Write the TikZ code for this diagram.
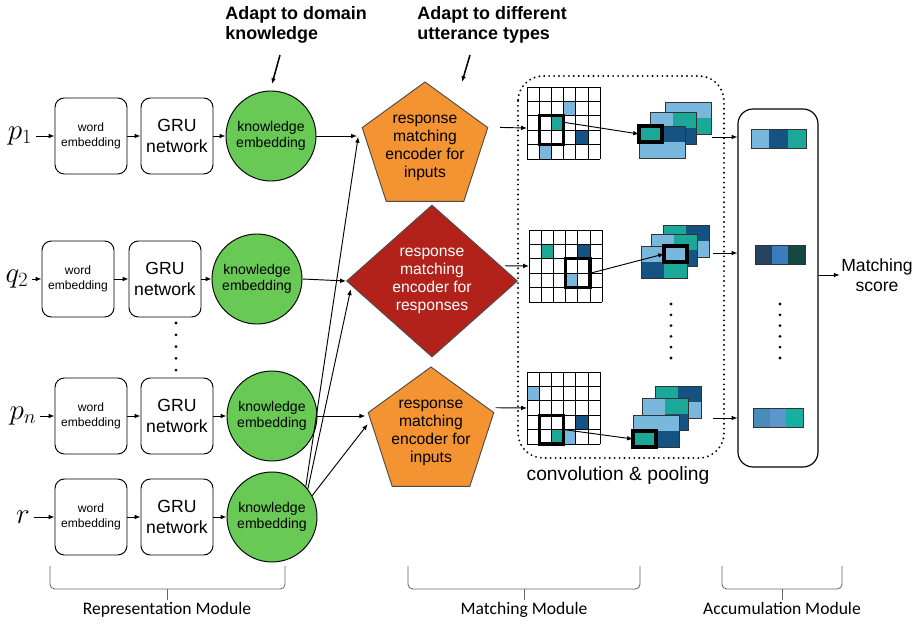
\documentclass[tikz,border=0pt]{standalone}
\usepackage[no-math]{fontspec}
\setmainfont{Liberation Sans}
\newfontfamily\calibrifont{Carlito}
\usetikzlibrary{shapes.geometric, arrows.meta}

\definecolor{kgreen}{RGB}{104,201,84}
\definecolor{encorange}{RGB}{244,147,49}
\definecolor{encred}{RGB}{178,34,27}
\definecolor{lblue}{RGB}{122,183,221}
\definecolor{dblue}{RGB}{22,82,130}
\definecolor{cteal}{RGB}{28,168,153}
\definecolor{vslate}{RGB}{38,68,94}
\definecolor{vmid}{RGB}{58,124,190}
\definecolor{vdgreen}{RGB}{22,72,66}
\definecolor{vsteel}{RGB}{72,140,190}
\definecolor{vsky}{RGB}{92,150,204}
\definecolor{vteal}{RGB}{22,176,160}

% one layer of a pooled feature map: x, y, four cell colours
\newcommand{\fmlayer}[6]{%
  \begin{scope}[shift={(#1,#2)}, xscale=23, yscale=16]
    \fill[#3] (0,0) rectangle (1,1);
    \fill[#4] (1,0) rectangle (2,1);
    \fill[#5] (0,1) rectangle (1,2);
    \fill[#6] (1,1) rectangle (2,2);
    \draw[fmline] (0,0) rectangle (2,2);
  \end{scope}}
% a vector in the accumulation module
\newcommand{\accvec}[6]{%
  \begin{scope}[shift={(#1,#2)}, xscale=#3, yscale=19]
    \fill[#4] (0,0) rectangle (1,1);
    \fill[#5] (1,0) rectangle (2,1);
    \fill[#6] (2,0) rectangle (3,1);
    \draw[fmline] (0,0) rectangle (3,1);
  \end{scope}}
\newcommand{\gridlines}{%
  \foreach \c in {0,...,6} \draw[gline] (\c,0) -- (\c,5);
  \foreach \r in {0,...,5} \draw[gline] (0,\r) -- (6,\r);}

\tikzset{
  >={Latex[length=5pt,width=4pt]},
  embbox/.style={draw, rounded corners=8pt, minimum width=2.16cm, minimum height=2.28cm, align=center, inner sep=1pt},
  wordfont/.style={font=\fontsize{10.3}{13}\selectfont},
  grufont/.style={font=\fontsize{15}{18.5}\selectfont},
  know/.style={circle, draw, fill=kgreen, minimum size=2.7cm, inner sep=1pt, align=center, font=\fontsize{12}{13.6}\selectfont},
  encin/.style={regular polygon, regular polygon sides=5, minimum size=3.96cm, inner sep=0pt, draw=black!70, fill=encorange},
  encresp/.style={diamond, minimum width=5.13cm, minimum height=4.56cm, inner sep=0pt, draw=black!70, fill=encred},
  enctext/.style={align=center, font=\fontsize{13.4}{15.5}\selectfont},
  annot/.style={align=left, inner sep=0pt, font=\bfseries\fontsize{15.3}{17}\selectfont},
  gline/.style={line width=0.8pt},
  fmline/.style={black!80, line width=0.6pt},
  kernel/.style={draw=black, line width=2.8pt},
  dotbox/.style={line width=1.8pt, line cap=round, dash pattern=on 0pt off 4.2pt, rounded corners=0.75cm},
  accbox/.style={draw, line width=1pt, rounded corners=0.45cm, minimum width=2.4cm, minimum height=10.74cm},
  brc/.style={black!60, line width=0.7pt, rounded corners=4pt},
  modlabel/.style={anchor=base, font=\calibrifont\fontsize{15}{18}\selectfont}
}

\begin{document}
\begin{tikzpicture}[x=0.03cm, y=-0.03cm, line width=0.8pt]
\useasboundingbox (0,0) rectangle (917,624);

% representation rows
\foreach \i/\y/\lx/\wx/\gx/\kx/\lab in {1/136/20/91/177/271/p_1, 2/279/17/78/165/257/q_2, 3/416/23/91/177/272/p_n, 4/517/23/91/177/272/r}{
  \node[font=\fontsize{25}{25}\selectfont, inner sep=3pt] (in\i) at (\lx,\y) {$\lab$};
  \node[embbox, wordfont] (w\i) at (\wx,\y) {word\\embedding};
  \node[embbox, grufont] (g\i) at (\gx,\y) {GRU\\network};
  \node[know] (k\i) at (\kx,\y) {knowledge\\embedding};
  \draw[->] (in\i) -- (w\i);
  \draw[->] (w\i) -- (g\i);
  \draw[->] (g\i) -- (k\i);
}
\foreach \d in {0,...,4} \fill (176,323+\d*11.8) circle (1.3pt);

% encoders
\node[encin, label={[enctext]center:{response\\matching\\encoder for\\inputs}}] (e1) at (425,148) {};
\node[encresp, label={[enctext, text=white]center:{response\\matching\\encoder for\\responses}}] (e2) at (432,281) {};
\node[encin, label={[enctext]center:{response\\matching\\encoder for\\inputs}}] (e3) at (431,433) {};

\draw[->, shorten >=4pt] (k1) -- (k1 -| e1.corner 2);
\draw[->] (k2.east) -- (e2.west);
\draw[->, shorten >=2pt] (k3) -- (k3 -| e3.corner 2);
\draw[->] (k4.42) -- ([xshift=-3pt,yshift=-8pt]e1.corner 2);
\draw[->] (k4.38) -- ([xshift=4pt,yshift=-7pt]e2.west);
\draw[->] (k4.28) -- ([yshift=-10pt]e3.corner 2);

% annotations
\node[annot, anchor=north west] (ann1) at (225,6) {Adapt to domain\\knowledge};
\node[annot, anchor=north west] (ann2) at (417,6) {Adapt to different\\utterance types};
\coordinate (a1s) at (280,55); \coordinate (a1e) at (272,84);
\coordinate (a2s) at (470,55); \coordinate (a2e) at (462,82);
\draw[->, line width=1.3pt] (a1s) -- (a1e);
\draw[->, line width=1.3pt] (a2s) -- (a2e);

% matching module
\draw[dotbox] (518,76) rectangle (724,458);
\node[font=\fontsize{16.4}{18}\selectfont] (convlab) at (618,476) {convolution \& pooling};

\begin{scope}[shift={(527,87)}, xscale=12.2, yscale=14.4]
  \fill[lblue] (3,1) rectangle (4,2);
  \fill[cteal] (2,2) rectangle (3,3);
  \fill[dblue] (4,3) rectangle (5,4);
  \fill[lblue] (1,4) rectangle (2,5);
  \gridlines
  \draw[kernel] (1,2) rectangle (3,4);
  \coordinate (gin1) at (0,2.85);
  \coordinate (ker1) at (3,2.45);
\end{scope}
\begin{scope}[shift={(529,230)}, xscale=12.2, yscale=14.4]
  \fill[cteal] (1,1) rectangle (2,2);
  \fill[dblue] (4,1) rectangle (5,2);
  \fill[lblue] (3,3) rectangle (4,4);
  \gridlines
  \draw[kernel] (3,2) rectangle (5,4);
  \coordinate (gin2) at (0,2.5);
  \coordinate (ker2) at (4.8,3.05);
\end{scope}
\begin{scope}[shift={(527,372)}, xscale=12.2, yscale=14.4]
  \fill[lblue] (0,1) rectangle (1,2);
  \fill[dblue] (4,3) rectangle (5,4);
  \fill[cteal] (2,4) rectangle (3,5);
  \fill[lblue] (3,4) rectangle (4,5);
  \gridlines
  \draw[kernel] (1,3) rectangle (3,5);
  \coordinate (gin3) at (0,2.5);
  \coordinate (ker3) at (3,4);
\end{scope}

\fmlayer{665}{102}{lblue}{lblue}{lblue}{cteal}
\fmlayer{650}{112}{lblue}{cteal}{lblue}{dblue}
\fmlayer{639}{126}{cteal}{dblue}{lblue}{lblue}
\draw[kernel] (639,126) rectangle (662,142);
\coordinate (pool1) at (639,134);

\fmlayer{663}{225}{cteal}{dblue}{lblue}{lblue}
\fmlayer{651}{234}{lblue}{cteal}{lblue}{dblue}
\fmlayer{641}{246}{lblue}{lblue}{dblue}{cteal}
\draw[kernel] (664,246) rectangle (687,262);
\coordinate (pool2) at (664,254);

\fmlayer{655}{386}{cteal}{dblue}{lblue}{lblue}
\fmlayer{642}{398}{lblue}{cteal}{lblue}{dblue}
\fmlayer{633}{415}{lblue}{lblue}{cteal}{dblue}
\draw[kernel] (633,431) rectangle (656,447);
\coordinate (pool3) at (633,439);

\draw[->] ([xshift=10pt]e1.corner 5) -- (gin1);
\draw[->] ([xshift=-11pt,yshift=13pt]e2.east) -- (gin2);
\draw[->] ([xshift=1pt,yshift=4pt]e3.corner 5) -- (gin3);
\draw[->] (ker1) -- (pool1);
\draw[->] (ker2) -- (pool2);
\draw[->] (ker3) -- (pool3);

\foreach \d in {0,...,5} {
  \fill (671,304+\d*10.8) circle (1.3pt);
  \fill (780,304+\d*10.8) circle (1.3pt);
}

% accumulation module
\node[accbox] (acc) at (778,288) {};
\accvec{751}{129}{18.3}{lblue}{dblue}{cteal}
\accvec{755}{245}{16.7}{vslate}{vmid}{vdgreen}
\accvec{753}{408}{16.7}{vsteel}{vsky}{vteal}

\coordinate (f1) at (712,137);
\coordinate (f2) at (713,253);
\coordinate (f3) at (713,418);
\draw[->] (f1) -- (f1 -| acc.west);
\draw[->] (f2) -- (f2 -| acc.west);
\draw[->] (f3) -- (f3 -| acc.west);

\node[align=center, inner sep=1pt, font=\fontsize{15}{17}\selectfont] (score) at (877,275) {Matching\\score};
\draw[->] (acc.east |- score.west) -- (score.west);

% module braces
\foreach \a/\b/\m/\txt in {50/285/167/Representation Module, 408/640/524/Matching Module, 722/842/782/Accumulation Module}{
  \draw[brc] (\a,566) -- (\a,589) -- (\b,589) -- (\b,566);
  \draw[brc] (\m,589) -- (\m,600);
  \node[modlabel] (mod\m) at (\m,614) {\txt};
}
\end{tikzpicture}
\end{document}
